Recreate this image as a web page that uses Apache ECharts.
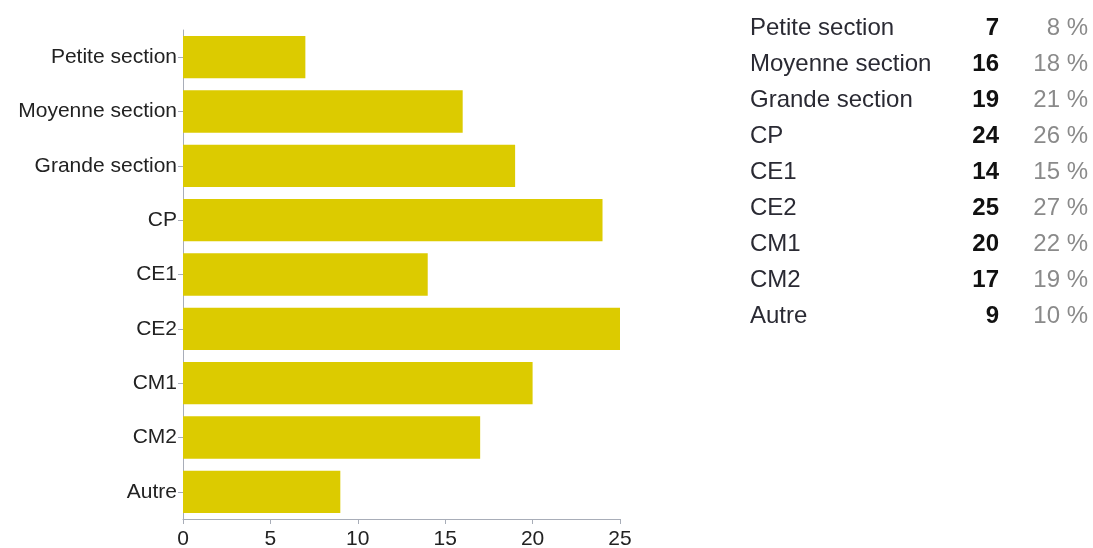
<!DOCTYPE html>
<html>
<head>
<meta charset="utf-8">
<script src="https://cdn.jsdelivr.net/npm/echarts@6/dist/echarts.min.js"></script>
<style>
  html, body { margin: 0; padding: 0; background: #fff; }
  #chart { width: 1093px; height: 548px; }
</style>
</head>
<body>
<div id="chart"></div>
<script>
// niveaux
const categories = ['Petite section', 'Moyenne section', 'Grande section', 'CP', 'CE1', 'CE2', 'CM1', 'CM2', 'Autre']
// nombre de réponses
const counts = [7, 16, 19, 24, 14, 25, 20, 17, 9]
// pourcentages affichés dans le tableau
const percents = [8, 18, 21, 26, 15, 27, 22, 19, 10]
const xTicks = [0, 5, 10, 15, 20, 25]

const font = "'Liberation Sans', Arial, sans-serif"
const axisGrey = '#a8adb8'

// tableau à droite
const tableRows = []
categories.forEach((name, i) => {
  const y = 28 + i * 36.1
  tableRows.push({
    type: 'text', x: 750, y: y,
    style: { text: name, fill: '#2a2a33', font: '24px ' + font, verticalAlign: 'middle' }
  })
  tableRows.push({
    type: 'text', x: 999, y: y,
    style: { text: String(counts[i]), fill: '#111', font: 'bold 24px ' + font, align: 'right', verticalAlign: 'middle' }
  })
  tableRows.push({
    type: 'text', x: 1088, y: y,
    style: { text: percents[i] + ' %', fill: '#8a8a8a', font: '24px ' + font, align: 'right', verticalAlign: 'middle' }
  })
})

const chart = echarts.init(document.getElementById('chart'))
chart.setOption({
  animation: false,
  grid: { left: 183, right: 473, top: 30, bottom: 29, containLabel: false, outerBoundsMode: 'none' },
  xAxis: {
    type: 'value',
    min: xTicks[0],
    max: xTicks[xTicks.length - 1],
    interval: 5,
    axisLine: { show: true, lineStyle: { color: axisGrey, width: 1 } },
    axisTick: { show: true, length: 5, lineStyle: { color: axisGrey } },
    splitLine: { show: false },
    axisLabel: { color: '#222', fontSize: 21, fontFamily: font, margin: 10 }
  },
  yAxis: {
    type: 'category',
    inverse: true,
    data: categories,
    axisLine: { show: true, lineStyle: { color: axisGrey, width: 1 } },
    axisTick: { show: true, alignWithLabel: true, length: 5, lineStyle: { color: axisGrey } },
    axisLabel: { color: '#222', fontSize: 21, fontFamily: font, margin: 6 }
  },
  series: [{
    type: 'bar',
    data: counts,
    barCategoryGap: '22%',
    itemStyle: { color: '#dccb00' },
    silent: true
  }],
  graphic: tableRows
})
</script>
</body>
</html>
